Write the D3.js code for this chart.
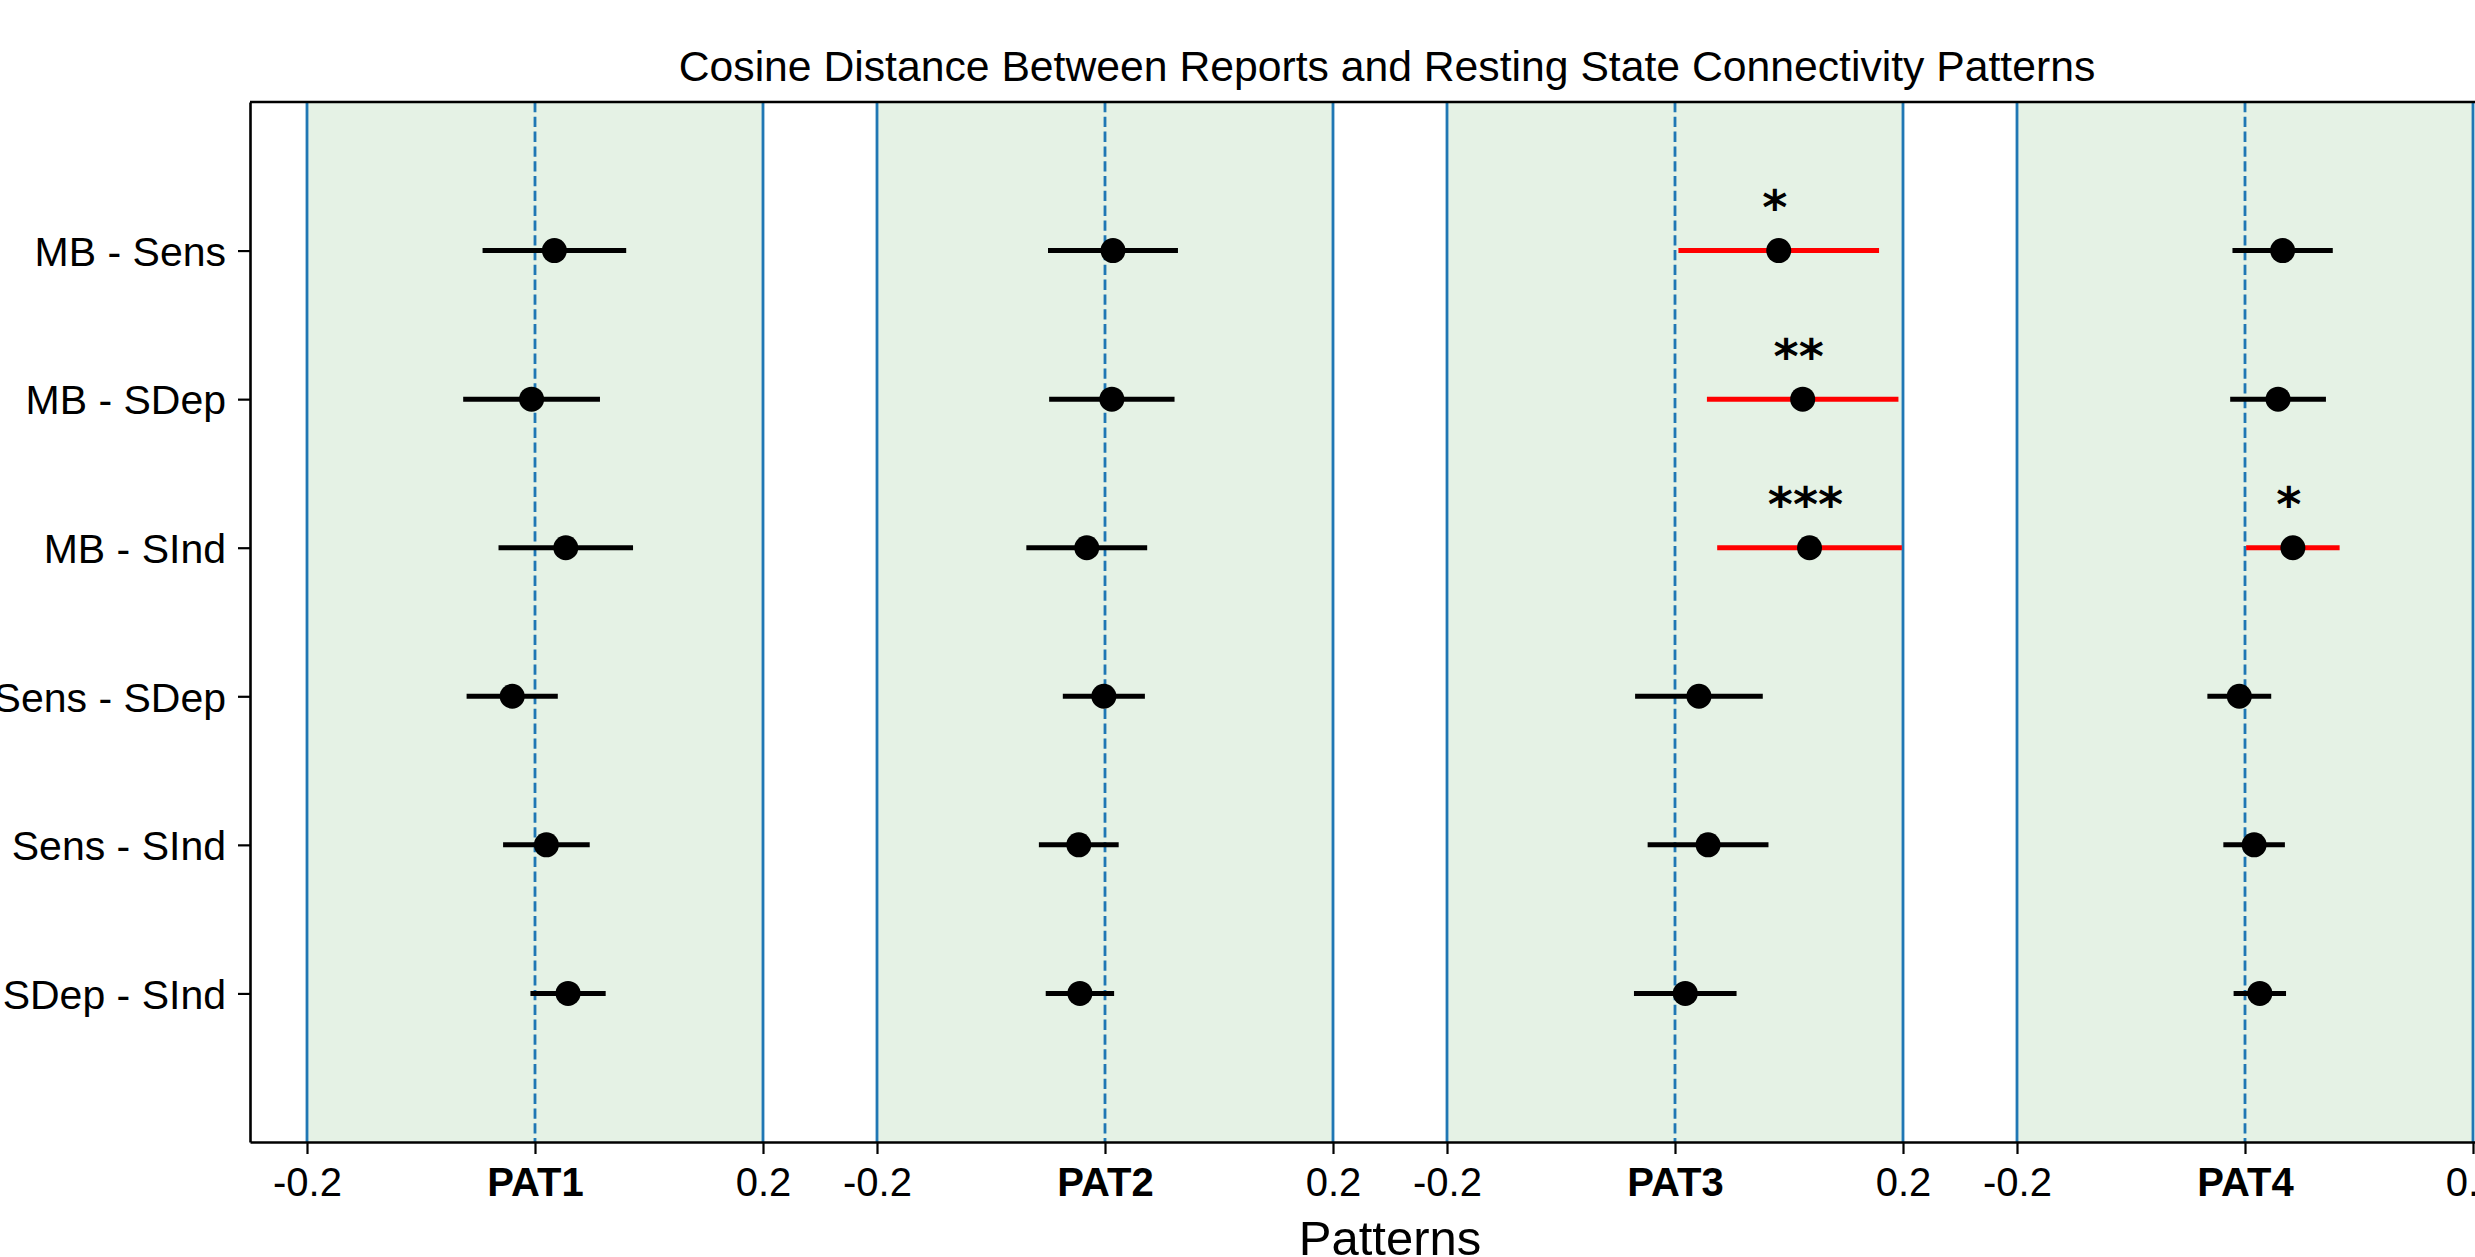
<!DOCTYPE html>
<html>
<head>
<meta charset="utf-8">
<script src="https://cdn.jsdelivr.net/npm/d3@7"></script>
<style>
  body { margin: 0; background: #fff; }
  svg { display: block; }
  text { font-family: "Liberation Sans", Arial, sans-serif; }
</style>
</head>
<body>
<div id="chart"></div>
<script>

// categories
var patterns = ["PAT1", "PAT2", "PAT3", "PAT4"];
var comparisons = ["MB - Sens", "MB - SDep", "MB - SInd", "Sens - SDep", "Sens - SInd", "SDep - SInd"];

// each pattern block sits 0.5 apart on x, with its own -0.2 .. 0.2 window
var patternSpacing = 0.5;
var windowTicks = [-0.2, 0.2];
var windowTickLabels = ["-0.2", "0.2"];

// cosine distance differences (mean) and half width of the interval, per pattern
var pat1Mean = [0.017, -0.003, 0.027, -0.020, 0.010, 0.029];
var pat1Err  = [0.063, 0.060, 0.059, 0.040, 0.038, 0.033];
var pat2Mean = [0.007, 0.006, -0.016, -0.001, -0.023, -0.022];
var pat2Err  = [0.057, 0.055, 0.053, 0.036, 0.035, 0.030];
var pat3Mean = [0.091, 0.112, 0.118, 0.021, 0.029, 0.009];
var pat3Err  = [0.088, 0.084, 0.081, 0.056, 0.053, 0.045];
var pat4Mean = [0.033, 0.029, 0.042, -0.005, 0.008, 0.013];
var pat4Err  = [0.044, 0.042, 0.041, 0.028, 0.027, 0.023];

// significance stars ("" = not significant)
var pat1Stars = ["", "", "", "", "", ""];
var pat2Stars = ["", "", "", "", "", ""];
var pat3Stars = ["*", "**", "***", "", "", ""];
var pat4Stars = ["", "", "*", "", "", ""];

var allMeans = [pat1Mean, pat2Mean, pat3Mean, pat4Mean];
var allErrs = [pat1Err, pat2Err, pat3Err, pat4Err];
var allStars = [pat1Stars, pat2Stars, pat3Stars, pat4Stars];

var titleText = "Cosine Distance Between Reports and Resting State Connectivity Patterns";
var xLabelText = "Patterns";

var width = 2475, height = 1257;
var margin = {top: 102, left: 250, bottom: 115};

// build the flat table
var points = [];
patterns.forEach(function(p, pi) {
    comparisons.forEach(function(c, ci) {
        points.push({
            pattern: pi,
            row: ci + 1,
            x: pi * patternSpacing + allMeans[pi][ci],
            err: allErrs[pi][ci],
            stars: allStars[pi][ci]
        });
    });
});

var xScale = d3.scaleLinear()
    .domain([-0.25, (patterns.length - 1) * patternSpacing + 0.25])
    .range([margin.left, margin.left + 2280]);
var yScale = d3.scaleLinear()
    .domain([0, comparisons.length + 1])
    .range([margin.top, height - margin.bottom]);

var svg = d3.select("#chart").append("svg")
    .attr("width", width)
    .attr("height", height)
    .attr("viewBox", [0, 0, width, height]);

var plotTop = yScale(0), plotBottom = yScale(comparisons.length + 1);

// green windows
var centers = patterns.map(function(p, i) { return i * patternSpacing; });
svg.append("g").selectAll("rect")
    .data(centers)
    .join("rect")
        .attr("x", d => xScale(d + windowTicks[0]))
        .attr("y", plotTop)
        .attr("width", d => xScale(d + windowTicks[1]) - xScale(d + windowTicks[0]))
        .attr("height", plotBottom - plotTop)
        .attr("fill", "green")
        .attr("fill-opacity", 0.1);

// window edges (solid) and pattern centre (dashed)
var edges = [];
centers.forEach(function(c) { windowTicks.forEach(function(t) { edges.push(c + t); }); });
svg.append("g").selectAll("line")
    .data(edges)
    .join("line")
        .attr("x1", d => xScale(d)).attr("x2", d => xScale(d))
        .attr("y1", plotTop).attr("y2", plotBottom)
        .attr("stroke", "#1f77b4")
        .attr("stroke-width", 2.8);
svg.append("g").selectAll("line")
    .data(centers)
    .join("line")
        .attr("x1", d => xScale(d)).attr("x2", d => xScale(d))
        .attr("y1", plotTop).attr("y2", plotBottom)
        .attr("stroke", "#1f77b4")
        .attr("stroke-width", 2.8)
        .attr("stroke-dasharray", "10.3,4.5");

// error bars
svg.append("g").selectAll("line")
    .data(points)
    .join("line")
        .attr("x1", d => xScale(d.x - d.err))
        .attr("x2", d => xScale(d.x + d.err))
        .attr("y1", d => yScale(d.row))
        .attr("y2", d => yScale(d.row))
        .attr("stroke", d => d.stars ? "red" : "black")
        .attr("stroke-width", 5);

svg.append("g").selectAll("circle")
    .data(points)
    .join("circle")
        .attr("cx", d => xScale(d.x))
        .attr("cy", d => yScale(d.row))
        .attr("r", 12.5)
        .attr("fill", "black");

// stars
svg.append("g").selectAll("text")
    .data(points.filter(d => d.stars))
    .join("text")
        .attr("x", d => xScale(d.x) - 4)
        .attr("y", d => yScale(d.row) - 56)
        .attr("dy", "0.62em")
        .attr("text-anchor", "middle")
        .style("font-family", "'DejaVu Sans', sans-serif")
        .style("font-weight", "bold")
        .style("font-size", "48px")
        .text(d => d.stars);

// x axis
var xTickValues = [], xTickText = [];
centers.forEach(function(c, i) {
    xTickValues.push(c + windowTicks[0]); xTickText.push(windowTickLabels[0]);
    xTickValues.push(c); xTickText.push(patterns[i]);
    xTickValues.push(c + windowTicks[1]); xTickText.push(windowTickLabels[1]);
});
var xAxis = d3.axisBottom(xScale)
    .tickValues(xTickValues)
    .tickFormat((d, i) => xTickText[i])
    .tickSize(12)
    .tickSizeOuter(0)
    .tickPadding(14);
var gx = svg.append("g")
    .attr("transform", "translate(0," + plotBottom + ")")
    .call(xAxis);
gx.selectAll("text")
    .style("font-size", "40px")
    .style("font-family", "'Liberation Sans', Arial, sans-serif")
    .attr("fill", "black")
    .style("font-weight", (d, i) => (i % 3 === 1) ? "bold" : "normal");
gx.selectAll(".tick line").attr("stroke", "black").attr("stroke-width", 2.2);
gx.select(".domain").attr("stroke", "black").attr("stroke-width", 2.6);

// y axis
var yAxis = d3.axisLeft(yScale)
    .tickValues(d3.range(1, comparisons.length + 1))
    .tickFormat(d => comparisons[d - 1])
    .tickSize(12)
    .tickSizeOuter(0)
    .tickPadding(12);
var gy = svg.append("g")
    .attr("transform", "translate(" + margin.left + ",0)")
    .call(yAxis);
gy.selectAll("text")
    .style("font-size", "41px")
    .style("font-family", "'Liberation Sans', Arial, sans-serif")
    .attr("fill", "black")
    .attr("dy", "0.36em");
gy.selectAll(".tick line").attr("stroke", "black").attr("stroke-width", 2.2);
gy.select(".domain").attr("stroke", "black").attr("stroke-width", 2.6);

// top spine
svg.append("line")
    .attr("x1", xScale.range()[0]).attr("x2", xScale.range()[1])
    .attr("y1", plotTop).attr("y2", plotTop)
    .attr("stroke", "black")
    .attr("stroke-width", 2.6);

// title and axis label
var midX = (xScale.range()[0] + xScale.range()[1]) / 2;
svg.append("text")
    .attr("x", midX - 3)
    .attr("y", 81)
    .attr("text-anchor", "middle")
    .style("font-size", "42.7px")
    .text(titleText);

svg.append("text")
    .attr("x", midX)
    .attr("y", 1255)
    .attr("text-anchor", "middle")
    .style("font-size", "49px")
    .text(xLabelText);

</script>
</body>
</html>
